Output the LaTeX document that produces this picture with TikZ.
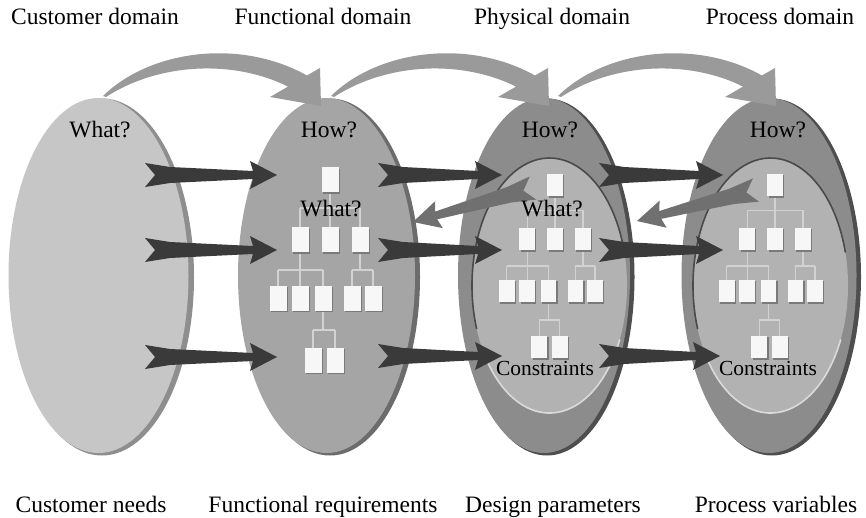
\documentclass[tikz,border=0pt]{standalone}
\usepackage{fontspec}
\setmainfont{Liberation Serif}
\usetikzlibrary{calc}
\definecolor{rimA}{HTML}{8E8E8E}
\definecolor{bodyA}{HTML}{C6C6C6}
\definecolor{rimB}{HTML}{6C6C6C}
\definecolor{bodyB}{HTML}{A5A5A5}
\definecolor{rimC}{HTML}{4E4E4E}
\definecolor{bodyC}{HTML}{8C8C8C}
\definecolor{innerC}{HTML}{B2B2B2}
\definecolor{innerDark}{HTML}{4A4A4A}
\definecolor{innerLight}{HTML}{DADADA}
\definecolor{arcgray}{HTML}{9A9A9A}
\definecolor{darkarrow}{HTML}{3A3A3A}
\definecolor{backarrow}{HTML}{707070}
\definecolor{boxwhite}{HTML}{F7F7F7}
\definecolor{boxshadow}{HTML}{7A7A7A}
\definecolor{treeline}{HTML}{D2D2D2}
\tikzset{
  lbl/.style={anchor=base, inner sep=0pt, font=\fontsize{23.5}{28}\selectfont},
  smalllbl/.style={anchor=base, inner sep=0pt, font=\fontsize{21.5}{26}\selectfont},
  tline/.style={draw=treeline, line width=1.2pt},
}
% tapered arrow: tail, tip, colour
\newcommand\tarrow[3]{%
  \coordinate (ta1) at ($(#1)!10pt!(#2)$);
  \coordinate (tb) at ($(#1)!25pt!(#2)$);
  \coordinate (hb) at ($(#2)!24pt!(#1)$);
  \coordinate (hw) at ($(#2)!27pt!(#1)$);
  \fill[#3] ($(#1)!12pt!90:(#2)$) -- (ta1) -- ($(#1)!12pt!-90:(#2)$)
    -- ($(tb)!8pt!-90:(#2)$) -- ($(hb)!4pt!90:(#1)$) -- ($(hw)!14pt!90:(#1)$)
    -- (#2) -- ($(hw)!14pt!-90:(#1)$) -- ($(hb)!4pt!-90:(#1)$)
    -- ($(tb)!8pt!90:(#2)$) -- cycle;}
% tree of requirement boxes, root at (0,0)
\newcommand\treeboxes{%
  \draw[tline] (0,12) -- (0,28) (-30,28) -- (30,28) (-30,28) -- (-30,48)
    (0,28) -- (0,48) (30,28) -- (30,48)
    (-30,72) -- (-30,106) (-52,90) -- (-7,90) (-52,90) -- (-52,106) (-7,90) -- (-7,106)
    (30,72) -- (30,90) (22,90) -- (43,90) (22,90) -- (22,106) (43,90) -- (43,106)
    (-7,130) -- (-7,150) (-17,150) -- (5,150) (-17,150) -- (-17,168) (5,150) -- (5,168);
  \foreach \bx/\by in {0/0,-30/60,0/60,30/60,-52/118,-30/118,-7/118,22/118,43/118,-17/180,5/180}{
    \fill[boxshadow] (\bx-7,\by-11) rectangle ++(17,25);
    \fill[boxwhite] (\bx-8.5,\by-12.5) rectangle ++(17,25);}
}
\begin{document}
\begin{tikzpicture}[x=1pt,y=-1pt]
\useasboundingbox (0,0) rectangle (866,518);
\fill[white] (0,0) rectangle (866,518);

% ellipses
\fill[rimA] (102,277) ellipse (92 and 178.5);
\fill[bodyA] (98.5,275.5) ellipse (90 and 177.5);

\fill[rimB] (330,277) ellipse (90 and 178.5);
\fill[bodyB] (326.5,275.5) ellipse (88.5 and 177.5);

\fill[rimC] (547,277) ellipse (87.5 and 178.5);
\fill[bodyC] (544,275.5) ellipse (86 and 177.5);
\fill[innerC] (549.5,285.5) ellipse (77.5 and 127.5);
\draw[innerDark, line width=1.6pt] ($(549.5,285.5)+(160:77.5 and 127.5)$) arc (160:345:77.5 and 127.5);
\draw[innerLight, line width=1.6pt] ($(549.5,285.5)+(25:77.5 and 127.5)$) arc (25:150:77.5 and 127.5);

\fill[rimC] (772,277) ellipse (89 and 178.5);
\fill[bodyC] (769,275.5) ellipse (87.5 and 177.5);
\fill[innerC] (770.5,285.5) ellipse (77.5 and 127.5);
\draw[innerDark, line width=1.6pt] ($(770.5,285.5)+(160:77.5 and 127.5)$) arc (160:345:77.5 and 127.5);
\draw[innerLight, line width=1.6pt] ($(770.5,285.5)+(25:77.5 and 127.5)$) arc (25:150:77.5 and 127.5);

% curved arrows between domains
\foreach \sx in {0,228,455}{
  \fill[arcgray, shift={(\sx,0)}] (103,96) .. controls (150,50) and (240,38) .. (307,75.5)
    -- (320,68) -- (321,106) -- (270,97) -- (288,86.6)
    .. controls (235,60) and (160,62) .. (106,97) -- cycle;
}

% trees
\begin{scope}[shift={(330,180)}] \treeboxes \end{scope}
\begin{scope}[shift={(555,185)}, xscale=.93, yscale=.9] \treeboxes \end{scope}
\begin{scope}[shift={(775,185)}, xscale=.93, yscale=.9] \treeboxes \end{scope}

% mapping arrows
\coordinate (t11) at (145,175); \coordinate (h11) at (277,175);
\coordinate (t12) at (145,250); \coordinate (h12) at (277,250);
\coordinate (t13) at (145,357); \coordinate (h13) at (277,357);
\coordinate (t21) at (378,175); \coordinate (h21) at (502,175);
\coordinate (t22) at (378,250); \coordinate (h22) at (502,250);
\coordinate (t23) at (378,356); \coordinate (h23) at (502,356);
\coordinate (t31) at (599,175); \coordinate (h31) at (723,175);
\coordinate (t32) at (599,250); \coordinate (h32) at (723,250);
\coordinate (t33) at (599,356); \coordinate (h33) at (720,356);
\foreach \r in {11,12,13,21,22,23,31,32,33}{\tarrow{t\r}{h\r}{darkarrow}}

% zig-zag back arrows
\coordinate (b1t) at (533,188); \coordinate (b1h) at (413,222);
\coordinate (b2t) at (756,190); \coordinate (b2h) at (637,221);
\tarrow{b1t}{b1h}{backarrow}
\tarrow{b2t}{b2h}{backarrow}

% labels
\node[lbl] (cd) at (95,25) {Customer domain};
\node[lbl] (fd) at (323,25) {Functional domain};
\node[lbl] (pd) at (552,25) {Physical domain};
\node[lbl] (prd) at (780,25) {Process domain};

\node[lbl] (cn) at (91,512) {Customer needs};
\node[lbl] (fr) at (323,512) {Functional requirements};
\node[lbl] (dp) at (553,512) {Design parameters};
\node[lbl] (pv) at (776,512) {Process variables};

\node[lbl] (w1) at (100,138) {What?};
\node[lbl] (h2) at (329,138) {How?};
\node[lbl] (h3) at (550,138) {How?};
\node[lbl] (h4) at (778,138) {How?};
\node[lbl] (w2) at (331,217) {What?};
\node[lbl] (w3) at (552,217) {What?};
\node[smalllbl] (c3) at (545,375) {Constraints};
\node[smalllbl] (c4) at (768,375) {Constraints};
\end{tikzpicture}
\end{document}
